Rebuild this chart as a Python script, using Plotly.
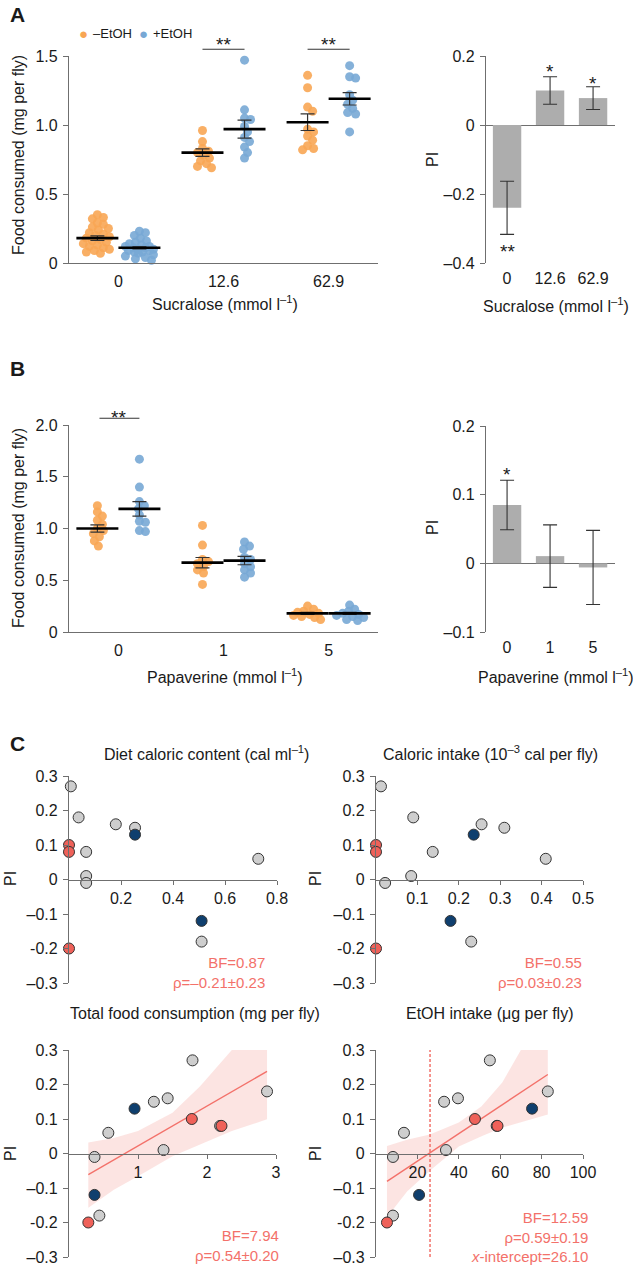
import plotly.graph_objects as go

W, H = 633, 1270
FONT = "Liberation Sans, Arial, Helvetica, sans-serif"
ORANGE, BLUE = "#f8a654", "#78a8d5"
PT_GREY, PT_RED, PT_NAVY = "#cecece", "#ef6159", "#0f3f6e"
SALMON = "#f3716a"
BAND = "rgba(246,170,165,0.32)"
AX = "#6f6f6f"
INK = "#1a1a1a"

# ---- A: sucralose (food consumed, mg per fly)
suc_ticks = ["0", "12.6", "62.9"]
suc_minus = [
    [0.35, 0.33, 0.32, 0.29, 0.28, 0.26, 0.25, 0.24, 0.22, 0.21, 0.20, 0.19,
     0.18, 0.17, 0.16, 0.15, 0.14, 0.13, 0.12, 0.11, 0.10, 0.09, 0.08, 0.07],
    [0.96, 0.88, 0.83, 0.81, 0.80, 0.78, 0.76, 0.74, 0.72, 0.70, 0.69],
    [1.36, 1.27, 1.13, 1.10, 0.97, 0.95, 0.92, 0.89, 0.85, 0.83, 0.82],
]
suc_plus = [
    [0.23, 0.22, 0.20, 0.18, 0.16, 0.15, 0.14, 0.13, 0.12, 0.12, 0.11, 0.11,
     0.10, 0.10, 0.09, 0.09, 0.08, 0.08, 0.07, 0.06, 0.05, 0.04, 0.03, 0.02],
    [1.47, 1.11, 1.05, 1.04, 0.99, 0.95, 0.91, 0.88, 0.84, 0.80, 0.76],
    [1.43, 1.35, 1.34, 1.22, 1.18, 1.15, 1.12, 1.09, 1.08, 0.95],
]
suc_minus_mean = [0.18, 0.80, 1.02]
suc_minus_sem = [0.017, 0.027, 0.06]
suc_plus_mean = [0.11, 0.97, 1.19]
suc_plus_sem = [0.007, 0.065, 0.045]
suc_pi = [-0.24, 0.10, 0.078]
suc_pi_sem = [0.077, 0.04, 0.033]

# ---- B: papaverine
pap_ticks = ["0", "1", "5"]
pap_minus = [
    [1.22, 1.16, 1.12, 1.08, 1.04, 1.00, 0.98, 0.95, 0.92, 0.88, 0.83],
    [1.03, 0.84, 0.70, 0.68, 0.66, 0.63, 0.60, 0.57, 0.46],
    [0.25, 0.22, 0.20, 0.19, 0.18, 0.17, 0.16, 0.15, 0.14, 0.12],
]
pap_plus = [
    [1.67, 1.40, 1.26, 1.22, 1.19, 1.13, 1.07, 1.06, 0.98, 0.97],
    [0.87, 0.83, 0.80, 0.72, 0.70, 0.66, 0.63, 0.60, 0.57, 0.53],
    [0.26, 0.22, 0.20, 0.18, 0.17, 0.16, 0.15, 0.14, 0.12, 0.11],
]
pap_minus_mean = [1.00, 0.67, 0.18]
pap_minus_sem = [0.035, 0.05, 0.01]
pap_plus_mean = [1.19, 0.69, 0.18]
pap_plus_sem = [0.07, 0.04, 0.01]
pap_pi = [0.085, 0.0105, -0.006]
pap_pi_sem = [0.036, 0.0455, 0.054]

# ---- C: PI against four covariates (grey / red / navy points)
diet_grey_x = [0.007, 0.037, 0.066, 0.066, 0.066, 0.18, 0.254, 0.728, 0.51]
diet_grey_y = [0.27, 0.18, 0.08, 0.01, -0.01, 0.16, 0.15, 0.06, -0.18]
diet_red_x = [0, 0, 0]
diet_red_y = [0.10, 0.08, -0.20]
diet_navy_x = [0.254, 0.51]
diet_navy_y = [0.13, -0.12]

cal_grey_x = [0.012, 0.09, 0.022, 0.085, 0.137, 0.255, 0.31, 0.41, 0.23]
cal_grey_y = [0.27, 0.18, -0.01, 0.01, 0.08, 0.16, 0.15, 0.06, -0.18]
cal_red_x = [0, 0, 0]
cal_red_y = [0.10, 0.08, -0.20]
cal_navy_x = [0.236, 0.18]
cal_navy_y = [0.13, -0.12]

food_grey_x = [0.37, 0.57, 1.23, 1.43, 1.79, 1.37, 2.87, 0.44, 2.19]
food_grey_y = [-0.01, 0.06, 0.15, 0.16, 0.27, 0.01, 0.18, -0.18, 0.08]
food_red_x = [1.78, 2.21, 0.28]
food_red_y = [0.10, 0.08, -0.20]
food_navy_x = [0.95, 0.37]
food_navy_y = [0.13, -0.12]
food_fit_x = [0.28, 2.87]
food_fit_y = [-0.061, 0.238]
food_band_x = [0.28, 0.65, 1.0, 1.5, 1.9, 2.36, 2.87]
food_band_hi = [0.032, 0.045, 0.065, 0.118, 0.195, 0.30, 0.30]
food_band_lo = [-0.157, -0.105, -0.066, -0.008, 0.025, 0.065, 0.099]

etoh_grey_x = [8.2, 13.5, 32.9, 39.6, 33.8, 55.0, 83.0, 8.2, 58.3]
etoh_grey_y = [-0.01, 0.06, 0.15, 0.16, 0.01, 0.27, 0.18, -0.18, 0.08]
etoh_red_x = [47.8, 58.7, 5.3]
etoh_red_y = [0.10, 0.08, -0.20]
etoh_navy_x = [75.4, 20.8]
etoh_navy_y = [0.13, -0.12]
etoh_fit_x = [5.3, 83.0]
etoh_fit_y = [-0.081, 0.229]
etoh_band_x = [5.3, 15, 26, 40, 51, 61, 70, 83]
etoh_band_hi = [0.022, 0.04, 0.055, 0.09, 0.137, 0.206, 0.30, 0.30]
etoh_band_lo = [-0.185, -0.11, -0.05, 0.02, 0.05, 0.075, 0.09, 0.113]
etoh_xint = 26.1

pi_ticks = ["–0.3", "-0.2", "–0.1", "0", "0.1", "0.2", "0.3"]


def dx(a, b):
    return [a / W, b / W]


def dy(top, bot):
    return [1 - bot / H, 1 - top / H]


def swarm(vals, ypx, xpx, d=6.0, wmax=14):
    """x offsets (axis units) so the dots of one group sit side by side; crowded ones may overlap"""
    placed, offs = [], []
    cands = sorted(range(-wmax, wmax + 1), key=lambda s: (abs(s), -s))
    for v in vals:
        y = v * ypx
        best, best_gap = 0, -1
        for s in cands:
            gap = min([((s - a) ** 2 + (y - b) ** 2) ** 0.5 for a, b in placed] or [99])
            if gap >= d:
                best = s
                break
            if gap > best_gap:
                best, best_gap = s, gap
        placed.append((best, y))
        offs.append(best / xpx)
    return offs


fig = go.Figure()


def dots(groups, mean, sem, side, color, xa, ya, ypx):
    xs, ys = [], []
    for i, vals in enumerate(groups):
        for v, o in zip(vals, swarm(vals, ypx, 105)):
            xs.append(i + side + o)
            ys.append(v)
    fig.add_trace(go.Scatter(x=xs, y=ys, mode="markers", xaxis=xa, yaxis=ya, cliponaxis=False,
                             marker=dict(size=9, color=color, opacity=0.9)))
    fig.add_trace(go.Scatter(x=[i + side for i in range(len(mean))], y=mean, mode="markers",
                             xaxis=xa, yaxis=ya, cliponaxis=False,
                             marker=dict(symbol="line-ew", size=30, line=dict(width=2.6, color="black")),
                             error_y=dict(type="data", array=sem, width=7, thickness=1.2, color="#333")))


dots(suc_minus, suc_minus_mean, suc_minus_sem, -0.2, ORANGE, "x", "y", 138)
dots(suc_plus, suc_plus_mean, suc_plus_sem, 0.2, BLUE, "x", "y", 138)
dots(pap_minus, pap_minus_mean, pap_minus_sem, -0.2, ORANGE, "x3", "y3", 103.5)
dots(pap_plus, pap_plus_mean, pap_plus_sem, 0.2, BLUE, "x3", "y3", 103.5)

for vals, sem, xa, ya in [(suc_pi, suc_pi_sem, "x2", "y2"), (pap_pi, pap_pi_sem, "x4", "y4")]:
    fig.add_trace(go.Bar(x=[0, 1, 2], y=vals, width=0.66, xaxis=xa, yaxis=ya,
                         marker=dict(color="#adadad", line=dict(width=0)),
                         error_y=dict(type="data", array=sem, width=7, thickness=1.1, color="#333")))

panels = [
    ("x5", "y5", diet_grey_x, diet_grey_y, diet_red_x, diet_red_y, diet_navy_x, diet_navy_y),
    ("x6", "y6", cal_grey_x, cal_grey_y, cal_red_x, cal_red_y, cal_navy_x, cal_navy_y),
    ("x7", "y7", food_grey_x, food_grey_y, food_red_x, food_red_y, food_navy_x, food_navy_y),
    ("x8", "y8", etoh_grey_x, etoh_grey_y, etoh_red_x, etoh_red_y, etoh_navy_x, etoh_navy_y),
]
fits = {
    "x7": (food_band_x, food_band_hi, food_band_lo, food_fit_x, food_fit_y),
    "x8": (etoh_band_x, etoh_band_hi, etoh_band_lo, etoh_fit_x, etoh_fit_y),
}
for xa, ya, gx, gy, rx, ry, nx, ny in panels:
    if xa in fits:
        bx, hi, lo, fx, fy = fits[xa]
        fig.add_trace(go.Scatter(x=bx + bx[::-1], y=hi + lo[::-1], fill="toself", fillcolor=BAND,
                                 line=dict(width=0), mode="lines", xaxis=xa, yaxis=ya))
        fig.add_trace(go.Scatter(x=fx, y=fy, mode="lines", line=dict(color=SALMON, width=1.4),
                                 xaxis=xa, yaxis=ya))
    if xa == "x8":
        fig.add_trace(go.Scatter(x=[etoh_xint, etoh_xint], y=[-0.3, 0.3], mode="lines",
                                 line=dict(color=SALMON, width=1.5, dash="3px,2px"),
                                 xaxis=xa, yaxis=ya))
    for px_, py_, col in [(gx, gy, PT_GREY), (rx, ry, PT_RED), (nx, ny, PT_NAVY)]:
        fig.add_trace(go.Scatter(x=px_, y=py_, mode="markers", xaxis=xa, yaxis=ya, cliponaxis=False,
                                 marker=dict(size=11, color=col, line=dict(width=1, color="#333"))))


def yax(domain, rng, vals, text, anchor, **kw):
    d = dict(domain=domain, range=rng, tickvals=vals, ticktext=text, anchor=anchor, automargin=False,
             showgrid=False, zeroline=False, showline=True, linecolor=AX, linewidth=1.3,
             ticks="outside", ticklen=5, tickwidth=1.3, tickcolor=AX, ticklabelstandoff=2,
             tickfont=dict(size=16, color=INK))
    d.update(kw)
    return d


def xcat(domain, rng, text, anchor, line):
    return dict(domain=domain, range=rng, tickvals=[0, 1, 2], ticktext=text, anchor=anchor,
                automargin=False, showgrid=False, zeroline=False, showline=line, linecolor=AX,
                linewidth=1.3, ticks="", ticklabelstandoff=4, tickfont=dict(size=16, color=INK))


def xnum(domain, rng, vals, zero_px):
    return dict(domain=domain, range=rng, tickvals=vals, ticktext=[f"{v:g}" for v in vals],
                anchor="free", position=1 - zero_px / H, automargin=False,
                showgrid=False, zeroline=False, showline=True, linecolor=AX, linewidth=1.3,
                ticks="outside", ticklen=4, tickwidth=1.3, tickcolor=AX,
                tickfont=dict(size=16, color=INK))


SUC_X = [-0.47, 2.47]
BAR_X = [-0.49, 2.51]
PI_V = [-0.3, -0.2, -0.1, 0, 0.1, 0.2, 0.3]
fig.update_layout(
    template="none",
    width=W, height=H, margin=dict(l=0, r=0, t=0, b=0, pad=0, autoexpand=False), showlegend=False,
    paper_bgcolor="white", plot_bgcolor="white", hovermode=False,
    font=dict(family=FONT, size=16, color=INK),
    xaxis=xcat(dx(69, 378), SUC_X, suc_ticks, "y", True),
    yaxis=yax(dy(56, 263), [0, 1.5], [0, 0.5, 1, 1.5], ["0", "0.5", "1.0", "1.5"], "x"),
    xaxis2=xcat(dx(486, 615), BAR_X, suc_ticks, "y2", False),
    yaxis2=yax(dy(56, 263), [-0.4, 0.2], [-0.4, -0.2, 0, 0.2], ["–0.4", "–0.2", "0", "0.2"], "x2",
               zeroline=True, zerolinecolor=AX, zerolinewidth=1.3),
    xaxis3=xcat(dx(69, 378), SUC_X, pap_ticks, "y3", True),
    yaxis3=yax(dy(425, 632), [0, 2], [0, 0.5, 1, 1.5, 2], ["0", "0.5", "1.0", "1.5", "2.0"], "x3"),
    xaxis4=xcat(dx(486, 615), BAR_X, pap_ticks, "y4", False),
    yaxis4=yax(dy(426, 632), [-0.1, 0.2], [-0.1, 0, 0.1, 0.2], ["–0.1", "0", "0.1", "0.2"], "x4",
               zeroline=True, zerolinecolor=AX, zerolinewidth=1.3),
    xaxis5=xnum(dx(69, 277), [0, 0.8], [0.2, 0.4, 0.6, 0.8], 879.5),
    yaxis5=yax(dy(776, 983), [-0.3, 0.3], PI_V, pi_ticks, "x5"),
    xaxis6=xnum(dx(376, 583), [0, 0.5], [0.1, 0.2, 0.3, 0.4, 0.5], 879.5),
    yaxis6=yax(dy(776, 983), [-0.3, 0.3], PI_V, pi_ticks, "x6"),
    xaxis7=xnum(dx(69, 276), [0, 3], [1, 2, 3], 1153.5),
    yaxis7=yax(dy(1050, 1257), [-0.3, 0.3], PI_V, pi_ticks, "x7"),
    xaxis8=xnum(dx(376, 583), [0, 100], [20, 40, 60, 80, 100], 1153.5),
    yaxis8=yax(dy(1050, 1257), [-0.3, 0.3], PI_V, pi_ticks, "x8"),
)


def note(x, y, text, size=16, color=INK, xanchor="center", **kw):
    fig.add_annotation(x=x / W, y=1 - y / H, xref="paper", yref="paper", text=text,
                       showarrow=False, xanchor=xanchor, yanchor="middle",
                       font=dict(size=size, color=color), **kw)


# panel letters
for lab, y in [("A", 15), ("B", 368), ("C", 743)]:
    note(17, y, f"<b>{lab}</b>", size=21)

# legend of panel A
note(83, 33, "●", size=15, color=ORANGE)
note(91, 33, "–EtOH", size=13, xanchor="left")
note(143, 33, "●", size=15, color=BLUE)
note(151, 33, "+EtOH", size=13, xanchor="left")

# axis titles
note(18, 155, "Food consumed (mg per fly)", textangle=-90)
note(18, 528, "Food consumed (mg per fly)", textangle=-90)
note(225, 303, "Sucralose (mmol l<sup>–1</sup>)")
note(556, 305, "Sucralose (mmol l<sup>–1</sup>)")
note(225, 676, "Papaverine (mmol l<sup>–1</sup>)")
note(556, 676, "Papaverine (mmol l<sup>–1</sup>)")
for x, y in [(432, 160), (432, 528), (10, 879), (315, 879), (10, 1154), (315, 1154)]:
    note(x, y, "PI", textangle=-90)

# panel C titles
note(206, 753, "Diet caloric content (cal ml<sup>–1</sup>)")
note(490, 753, "Caloric intake (10<sup>–3</sup> cal per fly)")
note(195, 1013, "Total food consumption (mg per fly)")
note(490, 1013, "EtOH intake (μg per fly)")

# Bayes factor / correlation notes
note(267, 972, "BF=0.87<br>ρ=–0.21±0.23", size=15, color=SALMON, xanchor="right", align="right")
note(584, 972, "BF=0.55<br>ρ=0.03±0.23", size=15, color=SALMON, xanchor="right", align="right")
note(281, 1245, "BF=7.94<br>ρ=0.54±0.20", size=15, color=SALMON, xanchor="right", align="right")
note(590, 1237, "BF=12.59<br>ρ=0.59±0.19<br><i>x</i>-intercept=26.10", size=15, color=SALMON,
     xanchor="right", align="right")


# significance stars / brackets, placed in axis-domain units so they may sit above the axis
def dom(v, rng):
    return (v - rng[0]) / (rng[1] - rng[0])


def star(xa, ya, xr, yr, x, y, text, bracket=None):
    fig.add_annotation(x=dom(x, xr), y=dom(y, yr), xref=f"{xa} domain", yref=f"{ya} domain",
                       xanchor="center", yanchor="middle", text=text, showarrow=False, yshift=-5,
                       font=dict(size=19, color=INK))
    if bracket:
        fig.add_shape(type="line", xref=f"{xa} domain", yref=f"{ya} domain",
                      x0=dom(bracket[0], xr), x1=dom(bracket[1], xr),
                      y0=dom(bracket[2], yr), y1=dom(bracket[2], yr),
                      line=dict(color="#333", width=1.2))


star("x", "y", SUC_X, [0, 1.5], 1, 1.616, "**", (0.8, 1.2, 1.549))
star("x", "y", SUC_X, [0, 1.5], 2, 1.616, "**", (1.8, 2.2, 1.549))
star("x3", "y3", SUC_X, [0, 2], 0, 2.12, "**", (-0.18, 0.2, 2.065))
star("x2", "y2", BAR_X, [-0.4, 0.2], 0, -0.353, "**")
star("x2", "y2", BAR_X, [-0.4, 0.2], 1, 0.169, "*")
star("x2", "y2", BAR_X, [-0.4, 0.2], 2, 0.135, "*")
star("x4", "y4", BAR_X, [-0.1, 0.2], 0, 0.136, "*")

# the page body keeps the browser's default 8 px margin otherwise
fig.write_html("out.html", config={"displayModeBar": False},
               post_script="document.body.style.margin='0';")
